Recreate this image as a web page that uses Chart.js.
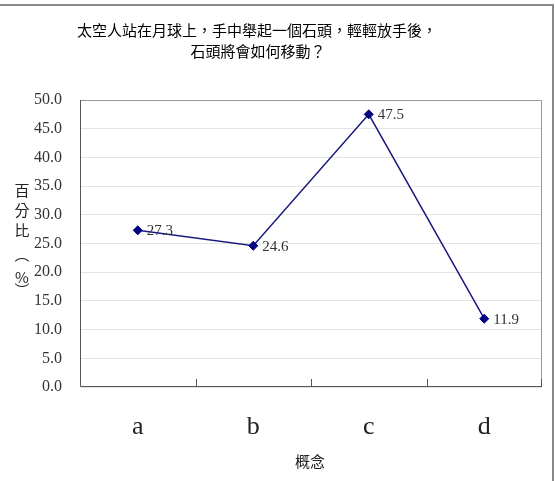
<!DOCTYPE html>
<html>
<head>
<meta charset="utf-8">
<script src="https://cdn.jsdelivr.net/npm/chart.js@4/dist/chart.umd.min.js"></script>
<style>
html,body{margin:0;padding:0;background:#fff;}
#wrap{width:555px;height:481px;position:relative;}
</style>
</head>
<body>
<div id="wrap"><canvas id="c" width="555" height="481"></canvas></div>
<script>
const titleLines = ['太空人站在月球上，手中舉起一個石頭，輕輕放手後，', '石頭將會如何移動？'];
const categories = ['a', 'b', 'c', 'd'];
const values = [27.3, 24.6, 47.5, 11.9];
const yTitleChars = ['百', '分', '比', '︵', '%', '︶'];
const xTitle = '概念';

const CJK = '"Noto Sans CJK TC", "Noto Sans CJK SC", sans-serif';
const SERIF = '"Liberation Serif", "DejaVu Serif", serif';

const decor = {
  id: 'decor',
  beforeDraw(chart) {
    const ctx = chart.ctx;
    ctx.save();
    ctx.fillStyle = '#fff';
    ctx.fillRect(0, 0, chart.width, chart.height);
    ctx.restore();
  },
  afterDraw(chart) {
    const ctx = chart.ctx;
    const a = chart.chartArea;
    const xs = chart.scales.x;
    ctx.save();
    // outer frame (top and right)
    ctx.strokeStyle = '#888';
    ctx.lineWidth = 2;
    ctx.beginPath();
    ctx.moveTo(0, 5); ctx.lineTo(553, 5); ctx.lineTo(553, 481);
    ctx.stroke();
    // plot frame top/right
    ctx.strokeStyle = '#999';
    ctx.lineWidth = 1;
    ctx.beginPath();
    ctx.moveTo(a.left, a.top + 0.5); ctx.lineTo(a.right - 0.5, a.top + 0.5); ctx.lineTo(a.right - 0.5, a.bottom);
    ctx.stroke();
    // left/bottom axis
    ctx.strokeStyle = '#555';
    ctx.beginPath();
    ctx.moveTo(a.left + 0.5, a.top); ctx.lineTo(a.left + 0.5, a.bottom - 0.5); ctx.lineTo(a.right, a.bottom - 0.5);
    ctx.stroke();
    // inner tick marks at category boundaries
    ctx.beginPath();
    for (let i = 0; i < categories.length; i++) {
      const p = i < categories.length - 1
        ? Math.round((xs.getPixelForTick(i) + xs.getPixelForTick(i + 1)) / 2) + 0.5
        : a.right - 0.5;
      ctx.moveTo(p, a.bottom);
      ctx.lineTo(p, a.bottom - 8);
    }
    ctx.stroke();
    // title
    ctx.fillStyle = '#000';
    ctx.font = '15px ' + CJK;
    ctx.textAlign = 'center';
    ctx.textBaseline = 'middle';
    ctx.fillText(titleLines[0], 257, 30);
    ctx.fillText(titleLines[1], 258, 51);
    // x title
    ctx.fillStyle = '#222';
    ctx.fillText(xTitle, 310, 461);
    // y title (vertical)
    const ys = [190, 210, 230, 254, 277, 290];
    yTitleChars.forEach((ch, i) => ctx.fillText(ch, 22, ys[i]));
    // data labels
    const meta = chart.getDatasetMeta(0);
    ctx.font = '15px ' + SERIF;
    ctx.textAlign = 'left';
    ctx.fillStyle = '#333';
    meta.data.forEach((pt, i) => {
      ctx.fillText(values[i].toFixed(1), pt.x + 9, pt.y + 1);
    });
    ctx.restore();
  }
};

new Chart(document.getElementById('c'), {
  type: 'line',
  data: {
    labels: categories,
    datasets: [{
      data: values,
      borderColor: '#1a1a80',
      backgroundColor: '#000080',
      borderWidth: 1.5,
      pointStyle: 'rectRot',
      pointRadius: 4.5,
      pointBorderWidth: 1,
      pointBackgroundColor: '#000080',
      pointBorderColor: '#000080',
      tension: 0,
      fill: false
    }]
  },
  options: {
    responsive: false,
    animation: false,
    devicePixelRatio: 1,
    layout: { padding: { top: 100, right: 13, left: 0, bottom: 0 } },
    plugins: { legend: { display: false }, tooltip: { enabled: false }, title: { display: false } },
    scales: {
      x: {
        offset: true,
        grid: { display: false, drawTicks: false },
        border: { display: false },
        ticks: { font: { family: SERIF, size: 26 }, color: '#222', padding: 25 },
        afterFit(s) { s.height = 94; }
      },
      y: {
        min: 0, max: 50,
        grid: { color: '#e4e4e4', drawTicks: false, lineWidth: 1 },
        border: { display: false },
        ticks: {
          stepSize: 5,
          font: { family: SERIF, size: 16 },
          color: '#333',
          padding: 18,
          callback: v => Number(v).toFixed(1)
        },
        afterFit(s) { s.width = 80; }
      }
    }
  },
  plugins: [decor]
});
</script>
</body>
</html>
